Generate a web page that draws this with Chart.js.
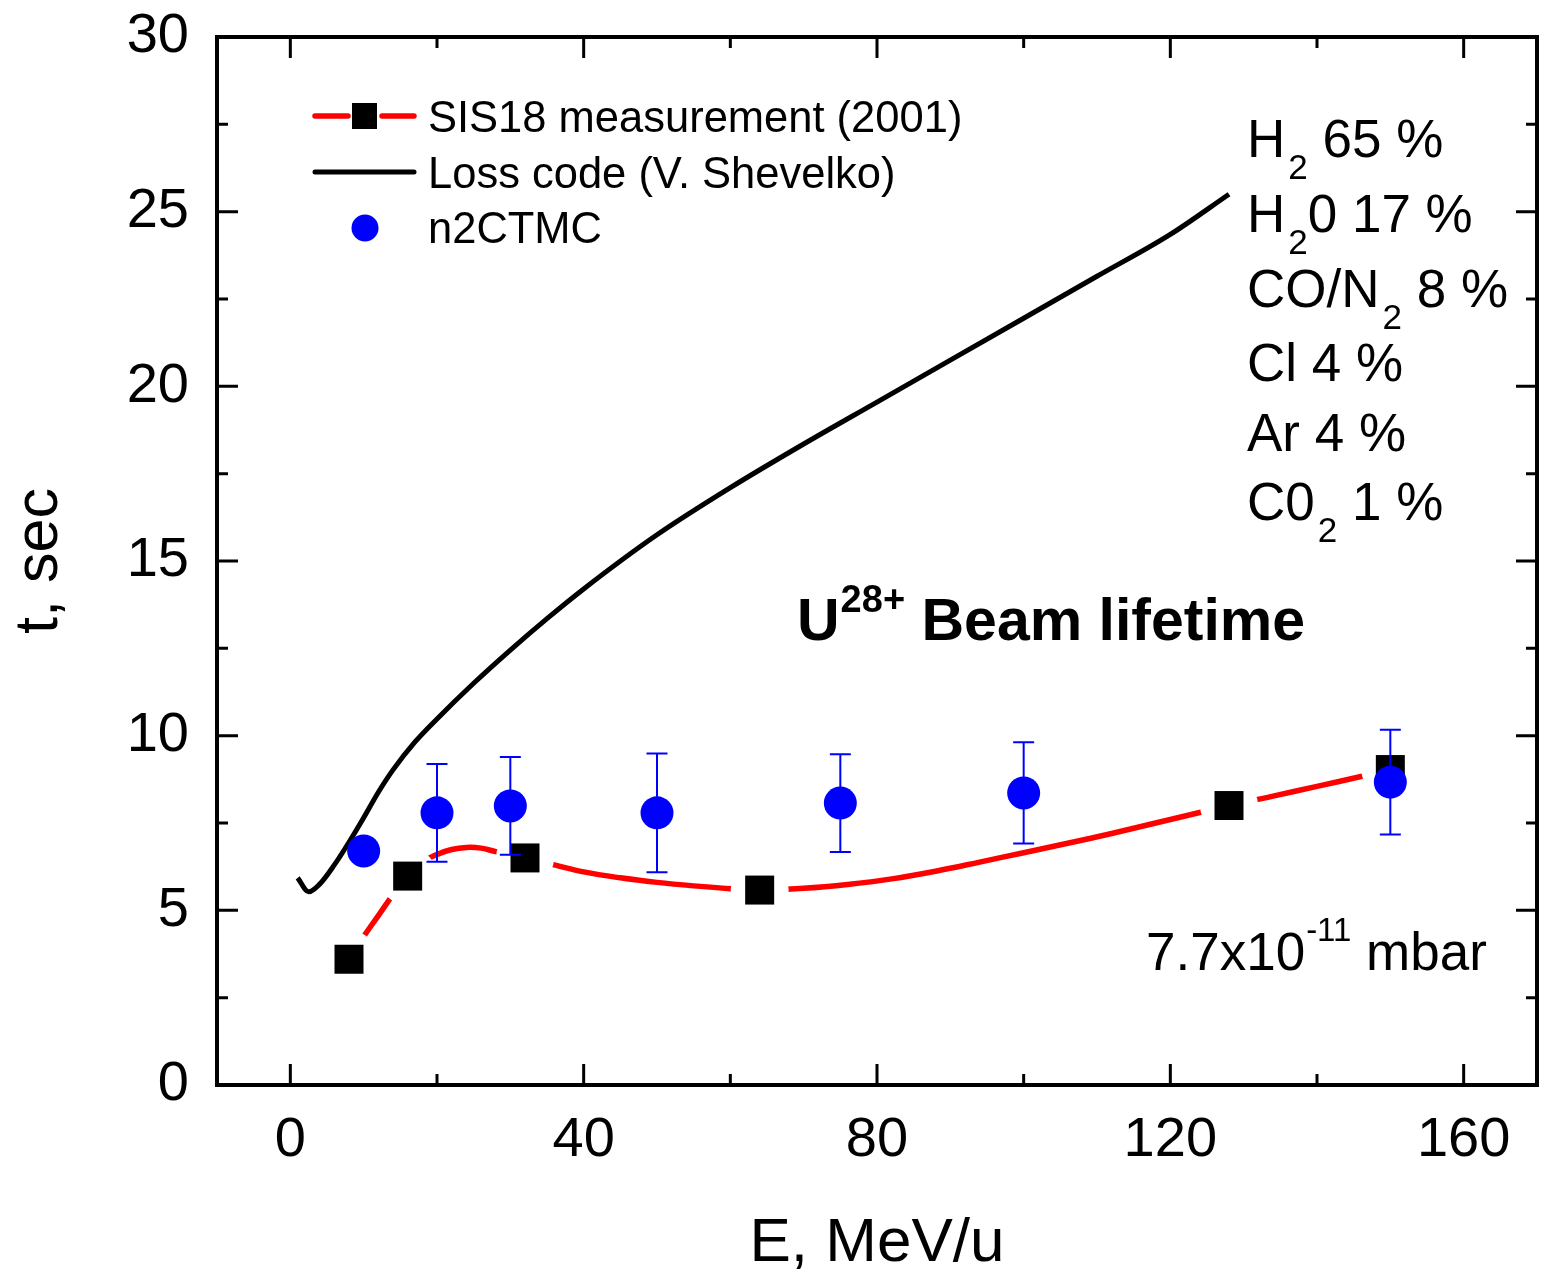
<!DOCTYPE html>
<html>
<head>
<meta charset="utf-8">
<title>U28+ beam lifetime</title>
<script src="https://cdn.jsdelivr.net/npm/chart.js@4/dist/chart.umd.min.js"></script>
<style>
  html, body { margin: 0; padding: 0; background: #ffffff; }
  #wrap { width: 1541px; height: 1275px; }
</style>
</head>
<body>
<div id="wrap"><canvas id="c" width="1541" height="1275"></canvas></div>
<script>
// ---- axis ticks ----
const xTicks = [0, 40, 80, 120, 160];
const xMinorTicks = [20, 60, 100, 140];
const yTicks = [0, 5, 10, 15, 20, 25, 30];
const yMinorTicks = [2.5, 7.5, 12.5, 17.5, 22.5, 27.5];

// ---- SIS18 measurement (2001): measured points ----
const sisE = [8, 16, 32, 64, 128, 150];
const sisT = [3.6, 5.98, 6.5, 5.58, 8.0, 9.03];

// ---- SIS18 spline through the measured points ----
const sisFitE = [8, 10, 12, 14, 16, 18, 20, 22, 24, 26, 28, 30, 32, 36, 40, 45, 50, 55, 60, 64,
                 70, 76, 82, 88, 94, 100, 106, 112, 118, 124, 128, 134, 140, 146, 150];
const sisFitT = [3.6, 4.25, 4.85, 5.45, 5.98, 6.38, 6.6, 6.74, 6.8, 6.78, 6.68, 6.58, 6.5, 6.3, 6.1, 5.93, 5.8, 5.7, 5.62, 5.58,
                 5.63, 5.74, 5.9, 6.12, 6.38, 6.65, 6.92, 7.2, 7.5, 7.8, 8.0, 8.27, 8.55, 8.83, 9.03];

// ---- Loss code (V. Shevelko) ----
const lossE = [1, 2.5, 4, 6, 8, 10, 12, 14, 17, 20, 25, 30, 35, 40, 50, 60, 70, 80, 90, 100, 110, 120, 128];
const lossT = [5.93, 5.53, 5.75, 6.3, 6.95, 7.65, 8.38, 9.02, 9.82, 10.48, 11.5, 12.45, 13.35, 14.2, 15.75, 17.1, 18.35, 19.55, 20.75, 21.95, 23.15, 24.35, 25.5];

// ---- n2CTMC with error bars ----
const ctmcE = [10, 20, 30, 50, 75, 100, 150];
const ctmcT = [6.7, 7.79, 7.99, 7.79, 8.07, 8.36, 8.67];
const ctmcErr = [null, 1.4, 1.4, 1.7, 1.4, 1.45, 1.5];

const FONT = '"Liberation Sans", Arial, Helvetica, sans-serif';
const pts = (xs, ys) => xs.map((x, i) => ({ x: x, y: ys[i] }));

// Draws a run of text pieces (sub/superscripts via size and vertical shift)
function richText(ctx, x, y, parts) {
  let cx = x;
  for (const p of parts) {
    ctx.font = (p.bold ? 'bold ' : '') + p.size + 'px ' + FONT;
    ctx.fillText(p.t, cx, y + (p.dy || 0));
    cx += ctx.measureText(p.t).width + (p.gap || 0);
  }
}

// keep the plot frame exactly where the layout padding puts it
function noScalePadding(s) {
  s.paddingTop = 0; s.paddingBottom = 0; s.paddingLeft = 0; s.paddingRight = 0;
}

const decorPlugin = {
  id: 'decor',
  afterDatasetsDraw(chart) {
    // vertical error bars for the n2CTMC points
    const { ctx } = chart;
    const xs = chart.scales.x, ys = chart.scales.y;
    ctx.save();
    ctx.strokeStyle = '#0000ff';
    ctx.lineWidth = 2;
    ctmcE.forEach((e, i) => {
      const err = ctmcErr[i];
      if (err == null) return;
      const px = xs.getPixelForValue(e);
      const top = ys.getPixelForValue(ctmcT[i] + err);
      const bot = ys.getPixelForValue(ctmcT[i] - err);
      ctx.beginPath();
      ctx.moveTo(px, top); ctx.lineTo(px, bot);
      ctx.moveTo(px - 10.5, top); ctx.lineTo(px + 10.5, top);
      ctx.moveTo(px - 10.5, bot); ctx.lineTo(px + 10.5, bot);
      ctx.stroke();
    });
    ctx.restore();
  },
  afterDraw(chart) {
    const { ctx, chartArea: a } = chart;
    const xs = chart.scales.x, ys = chart.scales.y;
    ctx.save();

    // frame
    ctx.strokeStyle = '#000';
    ctx.lineWidth = 4;
    ctx.lineCap = 'butt';
    ctx.strokeRect(a.left, a.top, a.right - a.left, a.bottom - a.top);

    // inward ticks on all four sides
    ctx.lineWidth = 3;
    const tickX = (v, len) => {
      const p = xs.getPixelForValue(v);
      ctx.beginPath();
      ctx.moveTo(p, a.bottom); ctx.lineTo(p, a.bottom - len);
      ctx.moveTo(p, a.top); ctx.lineTo(p, a.top + len);
      ctx.stroke();
    };
    const tickY = (v, len) => {
      const p = ys.getPixelForValue(v);
      ctx.beginPath();
      ctx.moveTo(a.left, p); ctx.lineTo(a.left + len, p);
      ctx.moveTo(a.right, p); ctx.lineTo(a.right - len, p);
      ctx.stroke();
    };
    xTicks.forEach(v => tickX(v, 21));
    xMinorTicks.forEach(v => tickX(v, 11));
    yTicks.forEach(v => tickY(v, 21));
    yMinorTicks.forEach(v => tickY(v, 11));

    // legend
    ctx.lineCap = 'round';
    ctx.strokeStyle = '#ff0000';
    ctx.lineWidth = 5.5;
    ctx.beginPath();
    ctx.moveTo(315, 116); ctx.lineTo(348, 116);
    ctx.moveTo(382, 116); ctx.lineTo(414, 116);
    ctx.stroke();
    ctx.fillStyle = '#000';
    ctx.fillRect(352, 103, 25, 26);
    ctx.strokeStyle = '#000';
    ctx.lineWidth = 5;
    ctx.beginPath();
    ctx.moveTo(315, 172); ctx.lineTo(414, 172);
    ctx.stroke();
    ctx.fillStyle = '#0000ff';
    ctx.beginPath();
    ctx.arc(365, 228, 13.5, 0, Math.PI * 2);
    ctx.fill();

    ctx.fillStyle = '#000';
    ctx.textBaseline = 'alphabetic';
    ctx.textAlign = 'left';
    ctx.font = '43.5px ' + FONT;
    ctx.fillText('SIS18 measurement (2001)', 428, 132);
    ctx.fillText('Loss code (V. Shevelko)', 428, 188);
    ctx.fillText('n2CTMC', 428, 243);

    // residual gas composition
    const big = 53, sub = 35, sd = 22;
    const gx = 1247;
    richText(ctx, gx, 157, [{ t: 'H', size: big, gap: 3 }, { t: '2', size: sub, dy: sd }, { t: ' 65 %', size: big }]);
    richText(ctx, gx, 232, [{ t: 'H', size: big, gap: 3 }, { t: '2', size: sub, dy: sd }, { t: '0 17 %', size: big }]);
    richText(ctx, gx, 307, [{ t: 'CO/N', size: big, gap: 3 }, { t: '2', size: sub, dy: sd }, { t: ' 8 %', size: big }]);
    richText(ctx, gx, 381, [{ t: 'Cl 4 %', size: big }]);
    richText(ctx, gx, 451, [{ t: 'Ar 4 %', size: big }]);
    richText(ctx, gx, 520, [{ t: 'C0', size: big, gap: 3 }, { t: '2', size: sub, dy: sd }, { t: ' 1 %', size: big }]);

    // plot caption
    richText(ctx, 797, 640, [
      { t: 'U', size: 59, bold: true, gap: 1 },
      { t: '28+', size: 38, bold: true, dy: -28 },
      { t: ' Beam lifetime', size: 59, bold: true }
    ]);

    // pressure
    richText(ctx, 1146, 970, [
      { t: '7.7x10', size: 53, gap: 1 },
      { t: '-11', size: 33, dy: -29 },
      { t: ' mbar', size: 53 }
    ]);

    ctx.restore();
  }
};

new Chart(document.getElementById('c'), {
  type: 'line',
  data: {
    datasets: [
      { // spline through SIS18 points
        label: 'SIS18 fit', data: pts(sisFitE, sisFitT),
        borderColor: '#ff0000', borderWidth: 5.5, pointRadius: 0, tension: 0.4,
        borderCapStyle: 'round', fill: false, order: 6
      },
      { // white gap around the measured symbols
        label: 'gap', data: pts(sisE, sisT), showLine: false,
        pointStyle: 'circle', pointRadius: 29, pointBackgroundColor: '#ffffff',
        pointBorderWidth: 0, pointBorderColor: '#ffffff', order: 5
      },
      {
        label: 'SIS18 measurement (2001)', data: pts(sisE, sisT), showLine: false,
        pointStyle: 'rect', pointRadius: 20.5, pointBackgroundColor: '#000000',
        pointBorderWidth: 0, pointBorderColor: '#000000', order: 4
      },
      {
        label: 'Loss code (V. Shevelko)', data: pts(lossE, lossT),
        borderColor: '#000000', borderWidth: 5, pointRadius: 0,
        cubicInterpolationMode: 'monotone', fill: false, order: 3
      },
      {
        label: 'n2CTMC', data: pts(ctmcE, ctmcT), showLine: false,
        pointStyle: 'circle', pointRadius: 16.5, pointBackgroundColor: '#0000ff',
        pointBorderWidth: 0, pointBorderColor: '#0000ff', order: 1
      }
    ]
  },
  options: {
    responsive: false,
    animation: false,
    devicePixelRatio: 1,
    layout: { autoPadding: false, padding: { left: 0, right: 4, top: 37, bottom: 0 } },
    plugins: { legend: { display: false }, tooltip: { enabled: false } },
    scales: {
      x: {
        type: 'linear', position: 'bottom', min: -10, max: 170,
        grid: { display: false }, border: { display: false },
        afterBuildTicks: s => { s.ticks = xTicks.map(v => ({ value: v })); },
        afterFit: s => { s.height = 190; noScalePadding(s); },
        ticks: { color: '#000', font: { family: FONT, size: 56 }, padding: 14, maxRotation: 0, autoSkip: false },
        title: { display: true, text: 'E, MeV/u', color: '#000', font: { family: FONT, size: 62, lineHeight: 1 }, padding: { top: 0, bottom: 0 } }
      },
      y: {
        type: 'linear', position: 'left', min: 0, max: 30,
        grid: { display: false }, border: { display: false },
        afterBuildTicks: s => { s.ticks = yTicks.map(v => ({ value: v })); },
        afterFit: s => { s.width = 217; noScalePadding(s); },
        ticks: { color: '#000', font: { family: FONT, size: 56 }, padding: 20, autoSkip: false },
        title: { display: true, text: 't, sec', color: '#000', font: { family: FONT, size: 61, lineHeight: 1 }, padding: { top: 10, bottom: 0 } }
      }
    }
  },
  plugins: [decorPlugin]
});
</script>
</body>
</html>
